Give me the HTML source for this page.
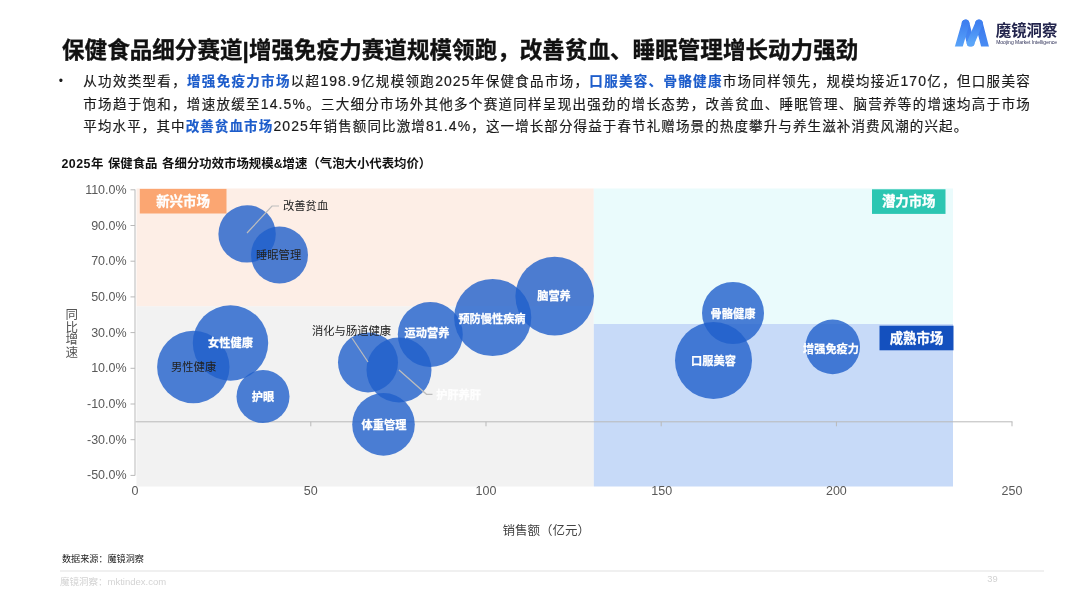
<!DOCTYPE html>
<html lang="zh-CN">
<head>
<meta charset="utf-8">
<title>保健食品细分赛道</title>
<style>
html,body{margin:0;padding:0;background:#fff;}
body{width:1080px;height:608px;position:relative;overflow:hidden;
  font-family:"Liberation Sans","Noto Sans CJK SC",sans-serif;color:#000;}
.abs{position:absolute;white-space:nowrap;}
#title{left:62px;top:35px;font-size:22.5px;font-weight:700;line-height:32px;color:#111;letter-spacing:0.07px;-webkit-text-stroke:0.35px #111;}
.pl{-webkit-text-stroke-width:0.18px;left:83.3px;width:947.5px;font-size:13.5px;letter-spacing:1.08px;line-height:22px;height:22px;color:#1a1a1a;
  text-align:justify;text-align-last:justify;white-space:nowrap;overflow:visible;}
.pl b{color:#1C5CCB;font-weight:700;}
.pl i{font-style:normal;font-size:14px;}
#bullet{left:58.8px;top:69.7px;font-size:12.2px;line-height:22px;color:#1a1a1a;}
#ctitle{left:61.5px;top:153.8px;letter-spacing:0;word-spacing:1.2px;font-size:12.4px;font-weight:700;line-height:20px;color:#111;}
#src{left:62px;top:551.8px;font-size:9.1px;line-height:14px;color:#222;}
#foot{left:60px;top:575px;font-size:9.5px;line-height:14px;color:#d3d3d3;}
#pg{left:987.3px;top:573.4px;font-size:9.3px;line-height:12px;color:#d2d2d2;}
#fline{left:60px;top:570.3px;width:984px;height:1.6px;background:#f0f0f0;}
#xt{left:496.3px;top:522.3px;width:100px;text-align:center;font-size:12.5px;line-height:18px;color:#444;}
#yt{left:64.7px;top:309px;width:14px;font-size:12.5px;line-height:12.6px;color:#555;white-space:normal;text-align:center;}
svg text{font-family:"Liberation Sans","Noto Sans CJK SC",sans-serif;}
</style>
</head>
<body>
<div id="title" class="abs">保健食品细分赛道|增强免疫力赛道规模领跑，改善贫血、睡眠管理增长动力强劲</div>
<div id="bullet" class="abs">•</div>
<div class="abs pl" style="top:70.3px">从功效类型看，<b>增强免疫力市场</b>以超<i>198.9</i>亿规模领跑<i>2025</i>年保健食品市场，<b>口服美容、骨骼健康</b>市场同样领先，规模均接近<i>170</i>亿，但口服美容</div>
<div class="abs pl" style="top:92.8px">市场趋于饱和，增速放缓至<i>14.5%</i>。三大细分市场外其他多个赛道同样呈现出强劲的增长态势，改善贫血、睡眠管理、脑营养等的增速均高于市场</div>
<div class="abs pl" style="top:115px;text-align-last:left;letter-spacing:1.12px">平均水平，其中<b>改善贫血市场</b><i>2025</i>年销售额同比激增<i>81.4%</i>，这一增长部分得益于春节礼赠场景的热度攀升与养生滋补消费风潮的兴起。</div>
<div id="ctitle" class="abs"><span style="letter-spacing:0.45px">2025</span>年 保健食品 各细分功效市场规模&amp;增速（气泡大小代表均价）</div>

<!-- chart -->
<svg class="abs" style="left:0;top:0" width="1080" height="608" viewBox="0 0 1080 608">
  <!-- quadrants -->
  <rect x="136.5" y="188.5" width="457.3" height="118" fill="#FDEEE6"/>
  <rect x="136.5" y="306.3" width="457.3" height="180.2" fill="#F2F2F2"/>
  <rect x="593.8" y="188.5" width="359.2" height="135.5" fill="#EAFBFC"/>
  <rect x="593.8" y="324" width="359.2" height="162.5" fill="#C7DAF8"/>
  <!-- axes -->
  <g stroke="#B9B9B9" stroke-width="1" fill="none">
    <path d="M135 189.5V475.5"/>
    <path d="M130.5 189.8H135M130.5 225.5H135M130.5 261.2H135M130.5 296.9H135M130.5 332.6H135M130.5 368.3H135M130.5 404H135M130.5 439.7H135M130.5 475.4H135"/>
    <path d="M135.5 421.8H1012.5"/>
    <path d="M310.8 421.8V426.3M486 421.8V426.3M661.2 421.8V426.3M836.4 421.8V426.3M1012 421.8V426.3"/>
  </g>
  <!-- y labels -->
  <g font-size="12.5" fill="#595959" text-anchor="end">
    <text x="126.6" y="193.8">110.0%</text>
    <text x="126.6" y="229.5">90.0%</text>
    <text x="126.6" y="265.2">70.0%</text>
    <text x="126.6" y="300.9">50.0%</text>
    <text x="126.6" y="336.6">30.0%</text>
    <text x="126.6" y="372.3">10.0%</text>
    <text x="126.6" y="408.0">-10.0%</text>
    <text x="126.6" y="443.7">-30.0%</text>
    <text x="126.6" y="479.4">-50.0%</text>
  </g>
  <!-- x labels -->
  <g font-size="12.5" fill="#595959" text-anchor="middle">
    <text x="134.9" y="494.8">0</text>
    <text x="310.8" y="494.8">50</text>
    <text x="486" y="494.8">100</text>
    <text x="661.8" y="494.8">150</text>
    <text x="836.4" y="494.8">200</text>
    <text x="1012" y="494.8">250</text>
  </g>
  <!-- bubbles -->
  <g fill="#1F5FCB" fill-opacity="0.8">
    <circle cx="247.1" cy="233.9" r="28.7"/>
    <circle cx="279.5" cy="255" r="28.5"/>
    <circle cx="230.5" cy="343" r="37.7"/>
    <circle cx="193.3" cy="367" r="36.2"/>
    <circle cx="263" cy="396.6" r="26.5"/>
    <circle cx="368" cy="362.4" r="30"/>
    <circle cx="399" cy="370" r="32.5"/>
    <circle cx="383.5" cy="424.4" r="31.3"/>
    <circle cx="430.3" cy="334.5" r="32.5"/>
    <circle cx="492.7" cy="317.5" r="38.6"/>
    <circle cx="554.7" cy="296.1" r="39.3"/>
    <circle cx="733" cy="313" r="31"/>
    <circle cx="713.5" cy="360.5" r="38.5"/>
    <circle cx="832.7" cy="346.9" r="27.3"/>
  </g>
  <!-- leader lines -->
  <g stroke="#BDBDBD" stroke-width="1.2" fill="none">
    <path d="M247 233L272 206H279"/>
    <path d="M352 338L368 362"/>
    <path d="M399 370L426.5 394.3H432.5"/>
  </g>
  <!-- quadrant tags -->
  <rect x="139.8" y="188.9" width="86.7" height="24.6" fill="#FBA672"/>
  <rect x="872" y="189.3" width="73.5" height="24.6" fill="#2CC6B2"/>
  <rect x="879.5" y="325.7" width="74" height="24.6" fill="#1450BE"/>
  <g font-size="13.4" font-weight="700" fill="#fff" stroke="#fff" stroke-width="0.3" text-anchor="middle">
    <text x="183" y="206">新兴市场</text>
    <text x="908.7" y="206.4">潜力市场</text>
    <text x="916.5" y="343">成熟市场</text>
  </g>
  <!-- bubble labels -->
  <g font-size="11.3" fill="#222">
    <text x="283" y="209.5">改善贫血</text>
    <text x="256" y="258.8">睡眠管理</text>
    <text x="171" y="371">男性健康</text>
    <text x="312" y="334.5">消化与肠道健康</text>
  </g>
  <g font-size="11.2" font-weight="700" fill="#fff" stroke="#fff" stroke-width="0.25" text-anchor="middle">
    <text x="230.5" y="347">女性健康</text>
    <text x="263" y="400.5">护眼</text>
    <text x="384" y="428.5">体重管理</text>
    <text x="427" y="336.7">运动营养</text>
    <text x="492" y="322.8">预防慢性疾病</text>
    <text x="554" y="300">脑营养</text>
    <text x="733" y="317.7">骨骼健康</text>
    <text x="713.5" y="364.5">口服美容</text>
    <text x="831" y="352.6">增强免疫力</text>
    <text x="458.6" y="398.9" fill-opacity="0.92">护肝养肝</text>
  </g>
</svg>

<div id="yt" class="abs">同比增速</div>
<div id="xt" class="abs">销售额（亿元）</div>
<div id="src" class="abs">数据来源：魔镜洞察</div>
<div id="fline" class="abs"></div>
<div id="foot" class="abs">魔镜洞察：mktindex.com</div>
<div id="pg" class="abs">39</div>

<!-- logo -->
<svg class="abs" style="left:950px;top:14px" width="125" height="40" viewBox="0 0 125 40">
  <defs>
    <linearGradient id="lg1" x1="0" y1="0" x2="0" y2="1">
      <stop offset="0" stop-color="#3F80F0"/><stop offset="1" stop-color="#5BA6F9"/>
    </linearGradient>
    <linearGradient id="lg2" x1="0" y1="0" x2="0" y2="1">
      <stop offset="0" stop-color="#3A78EC"/><stop offset="1" stop-color="#4A8DF4"/>
    </linearGradient>
    <clipPath id="lc"><rect x="0" y="0" width="45" height="32.6"/></clipPath>
  </defs>
  <g clip-path="url(#lc)" fill="none" stroke-width="7.6" stroke-linecap="round" stroke-linejoin="round">
    <path d="M15.6 9.4 L20.6 29" stroke="url(#lg2)"/>
    <path d="M29 9.4 L35.4 34" stroke="url(#lg2)"/>
    <path d="M8.4 34 L15.6 9.4" stroke="url(#lg1)"/>
    <path d="M20.6 29 L29 9.4" stroke="url(#lg1)"/>
  </g>
  <text x="45.8" y="21.6" font-size="15.4" font-weight="700" fill="#23254D">魔镜洞察</text>
  <text x="46.2" y="30" font-size="4.9" font-weight="400" fill="#2B2D55" textLength="60.8" lengthAdjust="spacingAndGlyphs">Moojing Market Intelligence</text>
</svg>
</body>
</html>
